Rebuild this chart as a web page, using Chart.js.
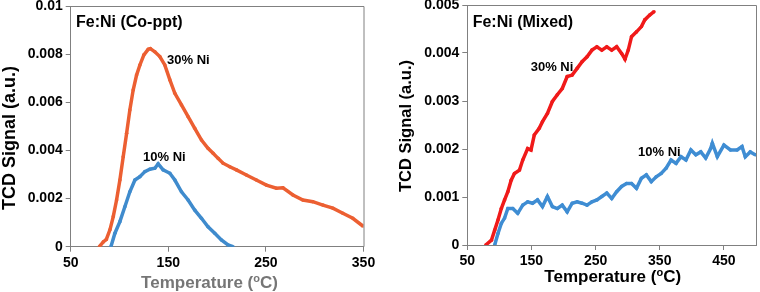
<!DOCTYPE html>
<html>
<head>
<meta charset="utf-8">
<script src="https://cdn.jsdelivr.net/npm/chart.js@4/dist/chart.umd.min.js"></script>
<style>
html, body { margin: 0; padding: 0; background: #fff; }
#wrap { position: relative; width: 760px; height: 292px; }
.panel { position: absolute; top: 0; width: 380px; height: 292px; }
</style>
</head>
<body>
<div id="wrap">
  <div class="panel" style="left:0"><canvas id="coppt" width="380" height="292"></canvas></div>
  <div class="panel" style="left:380px"><canvas id="mixed" width="380" height="292"></canvas></div>
</div>
<script>
// Fe:Ni (Co-ppt) panel
const copptT30 = [79.3, 83.4, 86.5, 90.2, 93.6, 97.0, 100.4, 103.8, 107.3, 110.6, 114.0, 117.5, 120.9, 125.0, 129.4, 131.6, 136.2, 141.3, 146.4, 151.6, 156.7, 163.5, 170.3, 177.1, 184.0, 190.7, 195.9, 201.0, 206.1, 213.0, 219.8, 230.0, 240.2, 250.5, 260.7, 267.5, 277.7, 287.9, 298.1, 308.4, 318.6, 328.8, 339.0, 349.3];
const copptV30 = [0, 0.0002, 0.0003, 0.0007, 0.00125, 0.00194, 0.00277, 0.00374, 0.00471, 0.00568, 0.00651, 0.00713, 0.00755, 0.00797, 0.0082, 0.00823, 0.0081, 0.0079, 0.00755, 0.00693, 0.00637, 0.00589, 0.0054, 0.00492, 0.00443, 0.00409, 0.00388, 0.00367, 0.00347, 0.00332, 0.00319, 0.00298, 0.00277, 0.00256, 0.00243, 0.00245, 0.00215, 0.00194, 0.00187, 0.00173, 0.0016, 0.00139, 0.00118, 0.00086];
const copptT10 = [91.2, 95.3, 100.4, 105.5, 110.6, 115.8, 120.9, 126.0, 131.1, 136.2, 139.6, 144.7, 151.6, 156.7, 163.5, 170.3, 177.1, 184.0, 190.7, 197.6, 204.4, 211.2, 216.3];
const copptV10 = [0, 0.00056, 0.00104, 0.00166, 0.00228, 0.00277, 0.00291, 0.00312, 0.00322, 0.00326, 0.00344, 0.00319, 0.00305, 0.00277, 0.00228, 0.00194, 0.00152, 0.00118, 0.00083, 0.00056, 0.00028, 0.00007, 0];
const copptXTicks = [50, 150, 250, 350];
const copptYTicks = [0, 0.002, 0.004, 0.006, 0.008, 0.01];
const copptYLabels = ["0", "0.002", "0.004", "0.006", "0.008", "0.01"];

// Fe:Ni (Mixed) panel
const mixedT30 = [78.8, 87.6, 92.7, 97.8, 103.0, 108.1, 113.2, 118.4, 123.5, 131.3, 136.4, 144.1, 149.3, 154.4, 162.1, 167.2, 174.9, 182.6, 190.3, 198.0, 205.7, 213.5, 221.2, 228.9, 236.6, 244.3, 252.0, 259.7, 267.4, 275.1, 282.8, 290.5, 295.8, 300.9, 306.0, 313.7, 321.4, 326.6, 334.3, 341.0];
const mixedV30 = [0, 0.0001, 0.00031, 0.00052, 0.00076, 0.00094, 0.00111, 0.00135, 0.00149, 0.00156, 0.00177, 0.00201, 0.00198, 0.00229, 0.00243, 0.00257, 0.00274, 0.00299, 0.00313, 0.00326, 0.00351, 0.00354, 0.00368, 0.00382, 0.00392, 0.00406, 0.00413, 0.00406, 0.00413, 0.00406, 0.00413, 0.00399, 0.00387, 0.00406, 0.00434, 0.00444, 0.00455, 0.00469, 0.00479, 0.00486];
const mixedT10 = [92.7, 97.8, 103.0, 108.1, 113.2, 120.9, 128.6, 136.4, 144.1, 151.8, 159.5, 167.2, 174.9, 182.6, 190.3, 198.0, 205.7, 213.5, 221.2, 228.9, 236.6, 244.3, 252.0, 259.7, 267.4, 275.1, 282.8, 290.5, 298.2, 306.0, 313.7, 321.4, 329.1, 336.8, 344.5, 352.2, 359.9, 367.6, 375.4, 383.1, 390.8, 398.5, 406.2, 413.9, 421.6, 429.3, 431.9, 439.7, 450.0, 460.2, 470.5, 478.2, 483.3, 491.0, 498.8];
const mixedV10 = [0, 0.00024, 0.00045, 0.00056, 0.00076, 0.00076, 0.00066, 0.00083, 0.0009, 0.00087, 0.00094, 0.0008, 0.00101, 0.0008, 0.00076, 0.00083, 0.00069, 0.00087, 0.0009, 0.00087, 0.00083, 0.0009, 0.00094, 0.00101, 0.00108, 0.00097, 0.00111, 0.00122, 0.00128, 0.00128, 0.00118, 0.00139, 0.00146, 0.00132, 0.00142, 0.00149, 0.0016, 0.00177, 0.0017, 0.00184, 0.00177, 0.00198, 0.00188, 0.00194, 0.00181, 0.00201, 0.00212, 0.00184, 0.00208, 0.00198, 0.00198, 0.00205, 0.00184, 0.00194, 0.00188];
const mixedXTicks = [50, 150, 250, 350, 450];
const mixedYTicks = [0, 0.001, 0.002, 0.003, 0.004, 0.005];
const mixedYLabels = ["0", "0.001", "0.002", "0.003", "0.004", "0.005"];

const FONT = "'Liberation Sans', Arial, sans-serif";
const AXIS_GRAY = "#808080";

function pts(xs, ys) {
    return xs.map((x, i) => ({ x: x, y: ys[i] }));
}

function series(xs, ys, color) {
    return {
        data: pts(xs, ys),
        showLine: true,
        borderColor: color,
        backgroundColor: color,
        borderWidth: 3.5,
        pointRadius: 1.8,
        pointBorderWidth: 0,
        tension: 0
    };
}

// draws frame, panel title, curve labels and axis titles
const panelText = {
    id: 'panelText',
    afterDraw(chart, args, o) {
        const ctx = chart.ctx;
        const a = chart.chartArea;
        ctx.save();
        ctx.strokeStyle = AXIS_GRAY;
        ctx.lineWidth = 1;
        ctx.beginPath();
        ctx.moveTo(a.left, a.top + 0.5);
        ctx.lineTo(a.right + 0.5, a.top + 0.5);
        ctx.lineTo(a.right + 0.5, a.bottom);
        ctx.stroke();

        ctx.fillStyle = "#000";
        ctx.textBaseline = "middle";
        ctx.textAlign = "left";
        ctx.font = "bold 16px " + FONT;
        ctx.fillText(o.title, o.titleX, o.titleY);

        ctx.font = "bold 13px " + FONT;
        o.labels.forEach(l => ctx.fillText(l.text, l.x, l.y));

        // y title
        ctx.save();
        ctx.translate(o.yTitleX, o.yTitleY);
        ctx.rotate(-Math.PI / 2);
        ctx.textAlign = "center";
        ctx.font = "bold " + o.yTitleSize + "px " + FONT;
        ctx.fillText("TCD Signal (a.u.)", 0, 0);
        ctx.restore();

        // x title with superscript o
        ctx.textBaseline = "alphabetic";
        ctx.fillStyle = o.xTitleColor;
        const big = "bold " + o.xTitleSize + "px " + FONT;
        const small = "bold " + Math.round(o.xTitleSize * 0.62) + "px " + FONT;
        ctx.font = big;
        const w1 = ctx.measureText("Temperature (").width;
        const w3 = ctx.measureText("C)").width;
        ctx.font = small;
        const w2 = ctx.measureText("o").width;
        let x = o.xTitleX - (w1 + w2 + w3) / 2;
        ctx.font = big;
        ctx.fillText("Temperature (", x, o.xTitleY);
        x += w1;
        ctx.font = small;
        ctx.fillText("o", x, o.xTitleY - o.xTitleSize * 0.38);
        x += w2;
        ctx.font = big;
        ctx.fillText("C)", x, o.xTitleY);
        ctx.restore();
    }
};

function makeChart(id, p) {
    return new Chart(document.getElementById(id), {
        type: 'scatter',
        data: { datasets: p.datasets },
        plugins: [panelText],
        options: {
            responsive: false,
            animation: false,
            layout: { padding: p.padding },
            plugins: {
                legend: { display: false },
                tooltip: { enabled: false },
                panelText: p.text
            },
            scales: {
                x: {
                    type: 'linear',
                    min: p.xMin,
                    max: p.xMax,
                    afterBuildTicks: s => { s.ticks = p.xTicks.map(v => ({ value: v })); },
                    afterFit: s => { s.height = p.xHeight; s.paddingLeft = 0; s.paddingRight = 0; },
                    grid: { drawOnChartArea: false, drawTicks: true, tickLength: 5, color: AXIS_GRAY },
                    border: { display: true, color: AXIS_GRAY, width: 1 },
                    ticks: { color: "#000", padding: 3, maxRotation: 0, font: { family: FONT, size: 14, weight: 'bold' } }
                },
                y: {
                    type: 'linear',
                    min: 0,
                    max: p.yMax,
                    afterBuildTicks: s => { s.ticks = p.yTicks.map(v => ({ value: v })); },
                    afterFit: s => { s.width = p.yWidth; s.paddingTop = 0; s.paddingBottom = 0; },
                    grid: { drawOnChartArea: false, drawTicks: true, tickLength: 5, color: AXIS_GRAY },
                    border: { display: true, color: AXIS_GRAY, width: 1 },
                    ticks: {
                        color: "#000",
                        padding: 3,
                        font: { family: FONT, size: 14, weight: 'bold' },
                        callback: (v, i) => p.yLabels[p.yTicks.indexOf(v)] ?? p.yLabels[i]
                    }
                }
            }
        }
    });
}

makeChart('coppt', {
    datasets: [
        series(copptT30, copptV30, "#EC5F32"),
        series(copptT10, copptV10, "#3F8BCD")
    ],
    padding: { left: 0, top: 6, right: 16.5, bottom: 0 },
    xMin: 50, xMax: 350, xTicks: copptXTicks, xHeight: 45.3,
    yMax: 0.01, yTicks: copptYTicks, yLabels: copptYLabels, yWidth: 70.7,
    text: {
        title: "Fe:Ni (Co-ppt)", titleX: 76, titleY: 23,
        labels: [
            { text: "30% Ni", x: 167, y: 60 },
            { text: "10% Ni", x: 143, y: 157 }
        ],
        yTitleX: 10, yTitleY: 138, yTitleSize: 18,
        xTitleX: 209.5, xTitleY: 288, xTitleSize: 17, xTitleColor: "#767676"
    }
});

makeChart('mixed', {
    datasets: [
        series(mixedT30, mixedV30, "#F01A1A"),
        series(mixedT10, mixedV10, "#3F8DD3")
    ],
    padding: { left: 0, top: 5, right: 1, bottom: 0 },
    xMin: 50, xMax: 500, xTicks: mixedXTicks, xHeight: 47,
    yMax: 0.005, yTicks: mixedYTicks, yLabels: mixedYLabels, yWidth: 87.3,
    text: {
        title: "Fe:Ni (Mixed)", titleX: 92.7, titleY: 23,
        labels: [
            { text: "30% Ni", x: 150.7, y: 67 },
            { text: "10% Ni", x: 258, y: 152 }
        ],
        yTitleX: 26, yTitleY: 126, yTitleSize: 16.5,
        xTitleX: 232.7, xTitleY: 282, xTitleSize: 17, xTitleColor: "#000"
    }
});
</script>
</body>
</html>
